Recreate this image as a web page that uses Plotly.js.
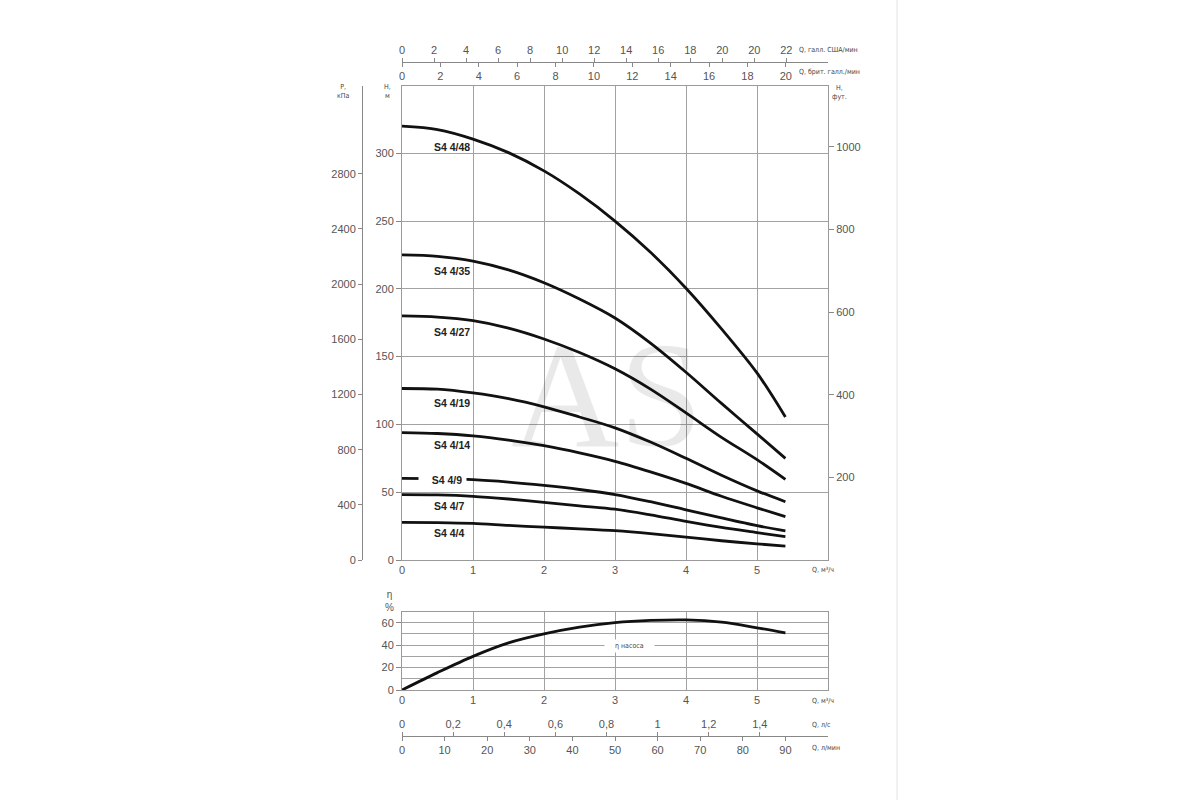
<!DOCTYPE html>
<html>
<head>
<meta charset="utf-8">
<script src="https://cdn.plot.ly/plotly-3.0.1.min.js"></script>
<style>
  body { margin: 0; background: #fff; }
  #chart { width: 1200px; height: 800px; }
</style>
</head>
<body>
<div id="chart"></div>
<script>
// flow Q, m3/h
var flow = [0, 0.5, 1, 1.5, 2, 2.5, 3, 3.5, 4, 4.5, 5, 5.4];

// head H, m for each pump
var h48 = [320, 317.5, 310.5, 300.5, 287, 270, 250, 227, 200.5, 170.5, 138, 105.5];
var h35 = [225, 224, 220.5, 214, 204.5, 192.5, 178.5, 160, 138.5, 115.5, 93, 75];
var h27 = [180, 179.2, 176.5, 171, 163, 153, 141, 126, 108.5, 90.5, 74, 59.5];
var h19 = [126.5, 126, 123.2, 119, 113, 105.5, 97.5, 87, 75, 62.5, 51, 43];
var h14 = [94, 93.3, 91.6, 88.5, 84.3, 79, 72.8, 65, 56.5, 47, 38.5, 32];
var h9 = [60.2, 60, 59.3, 57.5, 55, 52, 48.3, 43, 37, 31, 25.3, 21.5];
var h7 = [48.2, 48, 47, 45, 42.5, 40, 37.5, 33.3, 28.5, 24, 20.2, 17.2];
var h4 = [27.8, 27.6, 27, 25.5, 24.2, 23, 21.6, 19.5, 16.9, 14.2, 11.9, 10.3];

var models = ['S4 4/48', 'S4 4/35', 'S4 4/27', 'S4 4/19', 'S4 4/14', 'S4 4/9', 'S4 4/7', 'S4 4/4'];
var heads = [h48, h35, h27, h19, h14, h9, h7, h4];
// where each model name sits (head, m)
var labelHead = [304.5, 213, 168, 116, 84.7, 59, 40, 19.7];

// pump efficiency, %
var eff = [0, 15.5, 30, 42, 50, 56, 60, 62, 62.5, 60.5, 55.5, 51];

// tick labels of the extra scales
var kpaTicks = [0, 400, 800, 1200, 1600, 2000, 2400, 2800];
var ftTicks = [200, 400, 600, 800, 1000];
var usGpmTicks = [0, 2, 4, 6, 8, 10, 12, 14, 16, 18, 20, 22, 24];
var usGpmText = ['0', '2', '4', '6', '8', '10', '12', '14', '16', '18', '20', '20', '22'];
var impGpmTicks = [0, 2, 4, 6, 8, 10, 12, 14, 16, 18, 20];
var lsTicks = [0, 0.2, 0.4, 0.6, 0.8, 1, 1.2, 1.4];
var lsText = ['0', '0,2', '0,4', '0,6', '0,8', '1', '1,2', '1,4'];
var lminTicks = [0, 10, 20, 30, 40, 50, 60, 70, 80, 90];

// pixel helpers (margins are zero, paper = whole picture)
function px(x) { return x / 1200; }
function py(y) { return 1 - y / 800; }

var gridColor = '#a2a2a2';
var lineColor = '#9a9a9a';
var tickFont = { family: 'Liberation Sans, Arial, sans-serif', size: 11, color: '#555' };
var unitFont = { family: 'DejaVu Sans Condensed, Liberation Sans, sans-serif', size: 7, color: '#444' };
var nameFont = { family: 'Liberation Sans, Arial, sans-serif', size: 10.5, color: '#222', weight: 'bold' };
var sp = '&nbsp;';

var traces = [];
heads.forEach(function (h, i) {
    traces.push({
        x: flow, y: h, name: models[i], type: 'scatter', mode: 'lines',
        line: { color: '#111', width: 2.8, shape: 'spline', smoothing: 0.9 },
        hoverinfo: 'skip', showlegend: false
    });
});
traces.push({
    x: flow, y: eff, xaxis: 'x2', yaxis: 'y2', type: 'scatter', mode: 'lines',
    line: { color: '#111', width: 2.8, shape: 'spline', smoothing: 0.9 },
    hoverinfo: 'skip', showlegend: false
});
// empty traces so the extra scales get their own subplots
[['x', 'y3'], ['x', 'y4'], ['x3', 'y'], ['x4', 'y'], ['x5', 'y2'], ['x6', 'y2']].forEach(function (p) {
    traces.push({
        x: [null], y: [null], xaxis: p[0], yaxis: p[1], type: 'scatter', mode: 'lines',
        hoverinfo: 'skip', showlegend: false
    });
});

var xDom = [px(402), px(828)];

var annotations = [];
models.forEach(function (m, i) {
    // S4 4/9 sits on its own curve, so it gets a white gap around it
    var onCurve = (i === 5);
    annotations.push({
        x: onCurve ? 0.225 : 0.42, y: labelHead[i], xref: 'x', yref: 'y',
        text: onCurve ? sp + sp + sp + sp + m + sp : m,
        xanchor: 'left', yanchor: 'middle', showarrow: false, font: nameFont,
        bgcolor: onCurve ? '#fff' : 'rgba(0,0,0,0)', borderpad: 1
    });
});

function unitLabel(x, y, text, anchor) {
    annotations.push({
        x: px(x), y: py(y), xref: 'paper', yref: 'paper', text: text,
        xanchor: anchor || 'left', yanchor: 'middle', showarrow: false, font: unitFont
    });
}
unitLabel(343, 91, 'P,<br>кПа', 'center');
unitLabel(387, 91, 'H,<br>м', 'center');
unitLabel(839, 92, 'H,<br>фут.', 'center');
unitLabel(797, 50, 'Q, галл. США/мин');
unitLabel(797, 72, 'Q, брит. галл./мин');
unitLabel(810, 570, 'Q, м³/ч');
unitLabel(810, 701, 'Q, м³/ч');
unitLabel(810, 725, 'Q, л/с');
unitLabel(810, 748, 'Q, л/мин');
annotations.push({
    x: px(389), y: py(601), xref: 'paper', yref: 'paper', text: 'η<br>%',
    xanchor: 'center', yanchor: 'middle',
    showarrow: false, font: { family: tickFont.family, size: 10, color: '#555' }
});
annotations.push({
    x: 3.2, y: 39, xref: 'x2', yref: 'y2',
    text: sp + sp + sp + sp + 'η насоса' + sp + sp + sp + sp, showarrow: false,
    font: unitFont, bgcolor: '#fff', borderpad: 2
});
// faint watermark
annotations.push({
    x: px(607), y: py(395), xref: 'paper', yref: 'paper', text: 'AS', showarrow: false,
    font: { family: 'Liberation Serif, Times New Roman, serif', size: 150, color: 'rgba(0,0,0,0.085)' }
});

function extraAxis(o) {
    var base = {
        visible: true, showgrid: false, zeroline: false, showline: true,
        linecolor: '#888', linewidth: 1, ticks: 'outside', ticklen: 4,
        tickcolor: '#888', tickfont: tickFont, autorange: false
    };
    return Object.assign(base, o);
}

var layout = {
    width: 1200, height: 800,
    margin: { l: 0, r: 0, t: 0, b: 0, pad: 0 },
    paper_bgcolor: '#fff', plot_bgcolor: '#fff',
    showlegend: false,
    xaxis: {
        domain: xDom, anchor: 'y', range: [0, 6], tickvals: [0, 1, 2, 3, 4, 5],
        showgrid: true, gridcolor: gridColor, gridwidth: 1, zeroline: false,
        showline: true, mirror: true, linecolor: lineColor, linewidth: 1,
        ticks: '', tickfont: tickFont
    },
    yaxis: {
        domain: [py(560), py(85.5)], anchor: 'x', range: [0, 350],
        tickvals: [0, 50, 100, 150, 200, 250, 300],
        showgrid: true, gridcolor: gridColor, gridwidth: 1, zeroline: false,
        showline: true, mirror: true, linecolor: lineColor, linewidth: 1,
        ticks: 'outside', ticklen: 5, tickcolor: '#888', tickfont: tickFont
    },
    // pressure, kPa
    yaxis3: extraAxis({
        overlaying: 'y', anchor: 'free', position: px(362), side: 'left',
        range: [0, 3440], tickvals: kpaTicks
    }),
    // head, feet
    yaxis4: extraAxis({
        overlaying: 'y', anchor: 'x', side: 'right', showline: false, ticklen: 5,
        range: [0, 350 * 3.2808], tickvals: ftTicks
    }),
    // US gallons per minute
    xaxis3: extraAxis({
        overlaying: 'x', anchor: 'free', position: py(62), side: 'top',
        range: [0, 26.6], tickvals: usGpmTicks, ticktext: usGpmText
    }),
    // imperial gallons per minute
    xaxis4: extraAxis({
        overlaying: 'x', anchor: 'free', position: py(62), side: 'bottom',
        range: [0, 22.2], tickvals: impGpmTicks
    }),
    // efficiency chart
    xaxis2: {
        domain: xDom, anchor: 'y2', range: [0, 6], tickvals: [0, 1, 2, 3, 4, 5],
        showgrid: true, gridcolor: gridColor, gridwidth: 1, zeroline: false,
        showline: true, mirror: true, linecolor: lineColor, linewidth: 1,
        ticks: '', tickfont: tickFont
    },
    yaxis2: {
        domain: [py(690), py(611.5)], anchor: 'x2', range: [0, 70],
        tickvals: [0, 20, 40, 60],
        showgrid: true, gridcolor: gridColor, gridwidth: 1, zeroline: false,
        minor: { dtick: 10, tick0: 0, showgrid: true, gridcolor: gridColor, gridwidth: 1 },
        showline: true, mirror: true, linecolor: lineColor, linewidth: 1,
        ticks: 'outside', ticklen: 5, tickcolor: '#888', tickfont: tickFont
    },
    // litres per second
    xaxis5: extraAxis({
        overlaying: 'x2', anchor: 'free', position: py(736), side: 'top',
        range: [0, 6 / 3.6], tickvals: lsTicks, ticktext: lsText
    }),
    // litres per minute
    xaxis6: extraAxis({
        overlaying: 'x2', anchor: 'free', position: py(736), side: 'bottom',
        range: [0, 100], tickvals: lminTicks
    }),
    annotations: annotations,
    shapes: [{
        type: 'line', xref: 'paper', yref: 'paper',
        x0: px(897), x1: px(897), y0: 0, y1: 1,
        line: { color: '#e2e2e2', width: 1 }
    }]
};

Plotly.newPlot('chart', traces, layout, { staticPlot: true, displayModeBar: false });
</script>
</body>
</html>
